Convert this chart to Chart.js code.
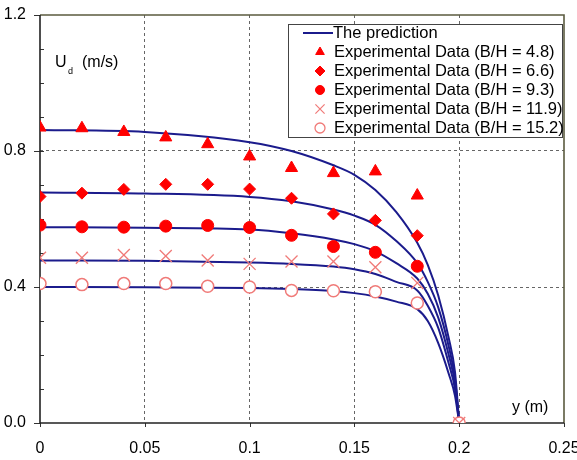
<!DOCTYPE html>
<html>
<head>
<meta charset="utf-8">
<script src="https://cdn.jsdelivr.net/npm/chart.js@4.4.0/dist/chart.umd.min.js"></script>
<style>
html,body{margin:0;padding:0;background:#fff;}
#wrap{width:577px;height:460px;}
</style>
</head>
<body>
<div id="wrap"><canvas id="c" width="577" height="460"></canvas></div>
<script>
// ---- data ----
const expX = [0, 0.02, 0.04, 0.06, 0.08, 0.10, 0.12, 0.14, 0.16, 0.18];
const expXEnd = [0, 0.02, 0.04, 0.06, 0.08, 0.10, 0.12, 0.14, 0.16, 0.18, 0.20];
const exp48  = [0.869, 0.867, 0.856, 0.840, 0.820, 0.784, 0.750, 0.735, 0.740, 0.669];
const exp66  = [0.666, 0.676, 0.687, 0.702, 0.702, 0.688, 0.661, 0.615, 0.596, 0.551];
const exp93  = [0.582, 0.577, 0.576, 0.579, 0.581, 0.575, 0.552, 0.519, 0.502, 0.461];
const exp119 = [0.486, 0.486, 0.494, 0.491, 0.478, 0.468, 0.475, 0.475, 0.458, 0.412, 0];
const exp152 = [0.410, 0.407, 0.410, 0.410, 0.402, 0.400, 0.390, 0.389, 0.386, 0.353, 0];

const predX   = [0, 0.05, 0.10, 0.12, 0.14, 0.15, 0.16, 0.17, 0.18, 0.185, 0.19, 0.195, 0.198, 0.20];
const pred48  = [0.862, 0.856, 0.826, 0.800, 0.758, 0.730, 0.685, 0.620, 0.530, 0.465, 0.375, 0.250, 0.150, 0];
const pred66  = [0.678, 0.675, 0.665, 0.652, 0.628, 0.610, 0.583, 0.535, 0.470, 0.415, 0.340, 0.225, 0.130, 0];
const pred93  = [0.576, 0.574, 0.569, 0.558, 0.540, 0.526, 0.505, 0.470, 0.425, 0.380, 0.310, 0.200, 0.115, 0];
const pred119 = [0.478, 0.477, 0.472, 0.468, 0.460, 0.452, 0.438, 0.415, 0.390, 0.345, 0.280, 0.175, 0.100, 0];
const pred152 = [0.400, 0.399, 0.397, 0.394, 0.388, 0.382, 0.372, 0.357, 0.335, 0.300, 0.235, 0.145, 0.080, 0];

const seriesLabels = [
  'Experimental Data (B/H = 4.8)',
  'Experimental Data (B/H = 6.6)',
  'Experimental Data (B/H = 9.3)',
  'Experimental Data (B/H = 11.9)',
  'Experimental Data (B/H = 15.2)'
];
const predictionLabel = 'The prediction';
const xTickValues = [0, 0.05, 0.1, 0.15, 0.2, 0.25];
const yTickValues = [0, 0.4, 0.8, 1.2];
const xTitle = 'y (m)';
const yTitleMain = 'U';
const yTitleSub = 'd';
const yTitleUnit = '(m/s)';

// ---- build ----
const pts = (xs, ys) => ys.map((v, i) => ({x: xs[i], y: v}));
const LINE = '#1b1b8c';
const RED = '#ff0000';
const PINK = '#f07a78';

const markerStyles = [
  {pointStyle: 'triangle', radius: 7, backgroundColor: RED, borderColor: RED, borderWidth: 1},
  {pointStyle: 'rectRot', radius: 6, backgroundColor: RED, borderColor: RED, borderWidth: 1},
  {pointStyle: 'circle', radius: 6, backgroundColor: RED, borderColor: RED, borderWidth: 1},
  {pointStyle: 'crossRot', radius: 8.5, backgroundColor: PINK, borderColor: PINK, borderWidth: 1.3},
  {pointStyle: 'circle', radius: 6, backgroundColor: '#ffffff', borderColor: PINK, borderWidth: 1.5}
];
const legendMarker = [
  {pointStyle: 'triangle', radius: 5, backgroundColor: RED, borderColor: RED, borderWidth: 1},
  {pointStyle: 'rectRot', radius: 5, backgroundColor: RED, borderColor: RED, borderWidth: 1},
  {pointStyle: 'circle', radius: 4.5, backgroundColor: RED, borderColor: RED, borderWidth: 1},
  {pointStyle: 'crossRot', radius: 6.5, backgroundColor: PINK, borderColor: PINK, borderWidth: 1.2},
  {pointStyle: 'circle', radius: 5, backgroundColor: '#ffffff', borderColor: PINK, borderWidth: 1.3}
];

const expData = [pts(expX, exp48), pts(expX, exp66), pts(expX, exp93), pts(expXEnd, exp119), pts(expXEnd, exp152)];
const predData = [pred48, pred66, pred93, pred119, pred152].map(a => pts(predX, a));

const datasets = [];
expData.forEach((d, i) => {
  const m = markerStyles[i];
  datasets.push({
    label: seriesLabels[i], data: d, showLine: false, order: 0,
    pointStyle: m.pointStyle, pointRadius: m.radius, pointHoverRadius: m.radius,
    pointBackgroundColor: m.backgroundColor, pointBorderColor: m.borderColor,
    pointBorderWidth: m.borderWidth, backgroundColor: m.backgroundColor, borderColor: m.borderColor
  });
});
predData.forEach((d) => {
  datasets.push({
    label: predictionLabel, data: d, showLine: true, order: 1,
    borderColor: LINE, borderWidth: 2, pointRadius: 0, pointHoverRadius: 0,
    fill: false, cubicInterpolationMode: 'monotone'
  });
});

const FONT = '"Liberation Sans", Arial, sans-serif';

const decor = {
  id: 'decor',
  beforeDatasetsDraw(chart) {
    const {ctx, chartArea: a, scales: {x, y}} = chart;
    ctx.save();
    ctx.strokeStyle = '#333';
    ctx.lineWidth = 1;
    for (let k = 1; k < 12; k++) {
      const py = Math.round(y.getPixelForValue(k * 0.1)) + 0.5;
      ctx.beginPath(); ctx.moveTo(a.left, py); ctx.lineTo(a.left + 4, py); ctx.stroke();
    }
    yTickValues.forEach(v => {
      const py = Math.round(y.getPixelForValue(v)) + 0.5;
      ctx.beginPath(); ctx.moveTo(a.left - 6, py); ctx.lineTo(a.left, py); ctx.stroke();
    });
    xTickValues.forEach(v => {
      const px = Math.round(x.getPixelForValue(v)) + 0.5;
      ctx.beginPath(); ctx.moveTo(px, a.bottom); ctx.lineTo(px, a.bottom + 4); ctx.stroke();
    });
    ctx.lineWidth = 1.6;
    ctx.strokeStyle = '#5b5b3f';
    ctx.beginPath();
    ctx.moveTo(a.left, a.top); ctx.lineTo(a.right, a.top); ctx.lineTo(a.right, a.bottom);
    ctx.stroke();
    ctx.strokeStyle = '#222';
    ctx.beginPath();
    ctx.moveTo(a.left, a.top); ctx.lineTo(a.left, a.bottom); ctx.lineTo(a.right, a.bottom);
    ctx.stroke();
    ctx.fillStyle = '#000';
    ctx.textBaseline = 'alphabetic';
    ctx.textAlign = 'left';
    ctx.font = '16px ' + FONT;
    ctx.fillText(yTitleMain, a.left + 15, 67);
    const uw = ctx.measureText(yTitleMain).width;
    ctx.font = '9px ' + FONT;
    ctx.fillText(yTitleSub, a.left + 15 + uw + 1.5, 74);
    ctx.font = '16px ' + FONT;
    ctx.fillText(yTitleUnit, a.left + 42, 67);
    ctx.fillText(xTitle, 512, 412);
    ctx.restore();
  },
  afterDatasetsDraw(chart) {
    const {ctx} = chart;
    ctx.save();
    const bx = 288.5, by = 24.5, bw = 274, bh = 113;
    ctx.fillStyle = '#fff';
    ctx.fillRect(bx, by, bw, bh);
    ctx.strokeStyle = '#444';
    ctx.lineWidth = 1;
    ctx.strokeRect(bx, by, bw, bh);
    ctx.font = '16.5px ' + FONT;
    ctx.fillStyle = '#000';
    ctx.textBaseline = 'middle';
    ctx.textAlign = 'left';
    ctx.strokeStyle = LINE; ctx.lineWidth = 2;
    ctx.beginPath(); ctx.moveTo(303, 33); ctx.lineTo(333, 33); ctx.stroke();
    ctx.fillText(predictionLabel, 333, 33);
    for (let i = 0; i < 5; i++) {
      const cy = 52 + i * 19;
      const m = legendMarker[i];
      ctx.fillStyle = m.backgroundColor; ctx.strokeStyle = m.borderColor; ctx.lineWidth = m.borderWidth;
      Chart.helpers.drawPoint(ctx, {pointStyle: m.pointStyle, radius: m.radius, rotation: 0, borderWidth: m.borderWidth}, 320, cy);
      ctx.fillStyle = '#000';
      ctx.fillText(seriesLabels[i], 334, cy);
    }
    ctx.restore();
  }
};

new Chart(document.getElementById('c'), {
  type: 'scatter',
  data: {datasets},
  options: {
    responsive: false, animation: false, devicePixelRatio: 1,
    layout: {padding: {top: 15, right: 13, left: 0, bottom: 0}},
    plugins: {legend: {display: false}, tooltip: {enabled: false}},
    scales: {
      x: {
        type: 'linear', min: 0, max: 0.25,
        afterBuildTicks: s => { s.ticks = xTickValues.map(v => ({value: v})); },
        afterFit: s => { s.height = 37; s.paddingLeft = 0; s.paddingRight = 0; },
        ticks: {
          color: '#000', font: {size: 16, family: FONT}, padding: 16, maxRotation: 0,
          callback: v => String(parseFloat(Number(v).toFixed(2)))
        },
        grid: {
          drawTicks: false, lineWidth: 1,
          color: c => (c.tick && c.tick.value > 0.001 && c.tick.value < 0.249) ? '#666' : 'rgba(0,0,0,0)'
        },
        border: {display: false, dash: [3, 3]}
      },
      y: {
        type: 'linear', min: 0, max: 1.2,
        afterBuildTicks: s => { s.ticks = yTickValues.map(v => ({value: v})); },
        afterFit: s => { s.width = 40; s.paddingTop = 0; s.paddingBottom = 0; },
        ticks: {
          color: '#000', font: {size: 16, family: FONT}, padding: 14,
          callback: v => Number(v).toFixed(1)
        },
        grid: {
          drawTicks: false, lineWidth: 1,
          color: c => (c.tick && c.tick.value > 0.001 && c.tick.value < 1.19) ? '#666' : 'rgba(0,0,0,0)'
        },
        border: {display: false, dash: [3, 3]}
      }
    }
  },
  plugins: [decor]
});
</script>
</body>
</html>
